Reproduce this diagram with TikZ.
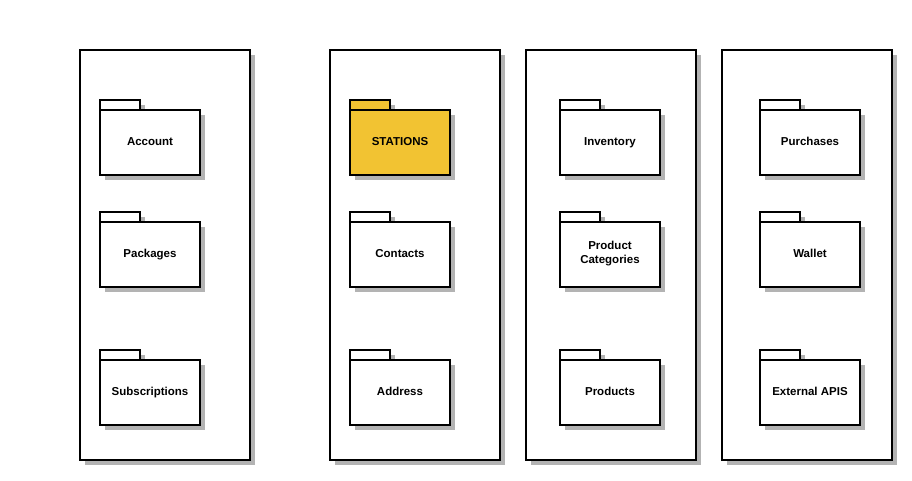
\documentclass[tikz,border=0pt]{standalone}
\usepackage{fontspec}
\setmainfont{Liberation Sans}
\usetikzlibrary{shadows}
\definecolor{stationfill}{RGB}{242,195,50}
\definecolor{shadowgray}{RGB}{179,179,179}

\tikzset{
  pkgshadow/.style={drop shadow={shadow xshift=5pt, shadow yshift=-5pt, opacity=1, fill=shadowgray}},
  module/.style={draw, line width=2pt, fill=white, pkgshadow, minimum width=170pt, minimum height=410pt, inner sep=0pt},
  foldertab/.style={draw, line width=2pt, fill=white, pkgshadow, minimum width=40pt, minimum height=10pt, inner sep=0pt},
  folderbody/.style={draw, line width=2pt, fill=white, pkgshadow, minimum width=100pt, minimum height=65pt, inner sep=0pt,
    align=center, font=\fontsize{11.5}{14}\selectfont\bfseries},
  oneline/.style={text height=8.5pt, text depth=2pt},
}

\begin{document}
\begin{tikzpicture}[x=1pt, y=-1pt]
      % Межі малюнка
      \useasboundingbox (0,0) rectangle (912,480);

      % Модулі (великі рамки)
      \foreach \cx/\col in {80/a, 330/b, 526/c, 722/d}
        \node[module] (mod-\col) at (\cx+85, 255) {};

      % Пакети: вкладка і тіло теки (x -- лівий край теки)
      \foreach \fx/\ry/\name/\txt in {100/100/account/Account, 100/212/packages/Packages, 100/350/subscr/Subscriptions,
          350/212/contacts/Contacts, 350/350/address/Address,
          560/100/inventory/Inventory, 560/350/products/Products,
          760/100/purchases/Purchases, 760/212/wallet/Wallet, 760/350/extapi/External APIS} {
        \node[foldertab] (\name-tab) at (\fx+20, \ry+5) {};
        \node[folderbody, oneline] (\name) at (\fx+50, \ry+42) {\txt};
      }

      % Тека з двома рядками
      \node[foldertab] (prodcat-tab) at (580, 217) {};
      \node[folderbody] (prodcat) at (610, 254) {Product\\Categories};

      % Виділений пакет
      \node[foldertab, fill=stationfill] (stations-tab) at (370, 105) {};
      \node[folderbody, oneline, fill=stationfill] (stations) at (400, 142) {STATIONS};
\end{tikzpicture}
\end{document}
